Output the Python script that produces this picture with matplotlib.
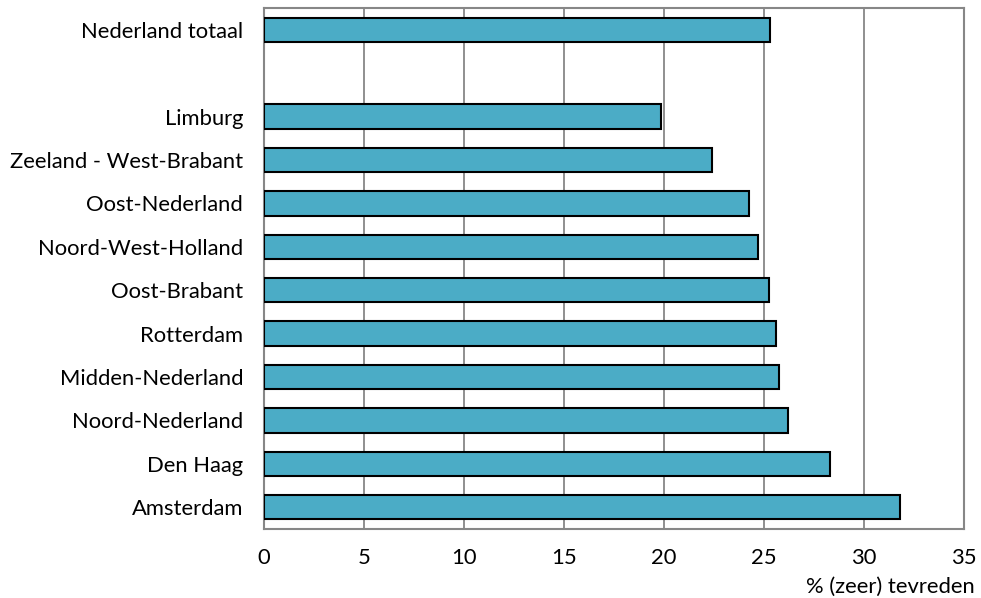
import matplotlib
matplotlib.use("Agg")
import matplotlib.pyplot as plt
import numpy as np

categories = ["Nederland totaal", "", "Limburg", "Zeeland - West-Brabant", "Oost-Nederland",
              "Noord-West-Holland", "Oost-Brabant", "Rotterdam", "Midden-Nederland",
              "Noord-Nederland", "Den Haag", "Amsterdam"]
values = [25.3, np.nan, 19.85, 22.4, 24.25, 24.7, 25.25, 25.6, 25.75, 26.2, 28.3, 31.8]
xticks = [0, 5, 10, 15, 20, 25, 30, 35]
xlabel = "% (zeer) tevreden"

plt.rcParams['font.family'] = ['Lato', 'DejaVu Sans']
FS = 15.8

fig = plt.figure(figsize=(9.81, 5.98), dpi=100)
ax = fig.add_axes([264/981, 1 - 529/598, 700/981, 521/598])

y = np.arange(len(categories))
vals = np.array(values, dtype=float)
mask = ~np.isnan(vals)
ax.barh(y[mask], vals[mask], height=0.56, color="#4bacc6", edgecolor="black", linewidth=1.5, zorder=3)

ax.set_ylim(len(categories) - 0.5, -0.5)
ax.set_yticks(y)
ax.set_yticklabels(categories, fontsize=FS)
ax.set_xlim(0, 35)
ax.set_xticks(xticks)
ax.set_xticklabels([str(t) for t in xticks], fontsize=FS)
ax.tick_params(axis='both', length=0)
ax.tick_params(axis='y', pad=15)
ax.tick_params(axis='x', pad=14)
ax.grid(axis='x', color="#878787", linewidth=1.3, zorder=0)
ax.set_axisbelow(True)
for s in ax.spines.values():
    s.set_color("#878787")
    s.set_linewidth(1.5)

fig.text(975/981, 1 - 587/598, xlabel, ha='right', va='center', fontsize=FS)

fig.savefig("out.png", dpi=100)
